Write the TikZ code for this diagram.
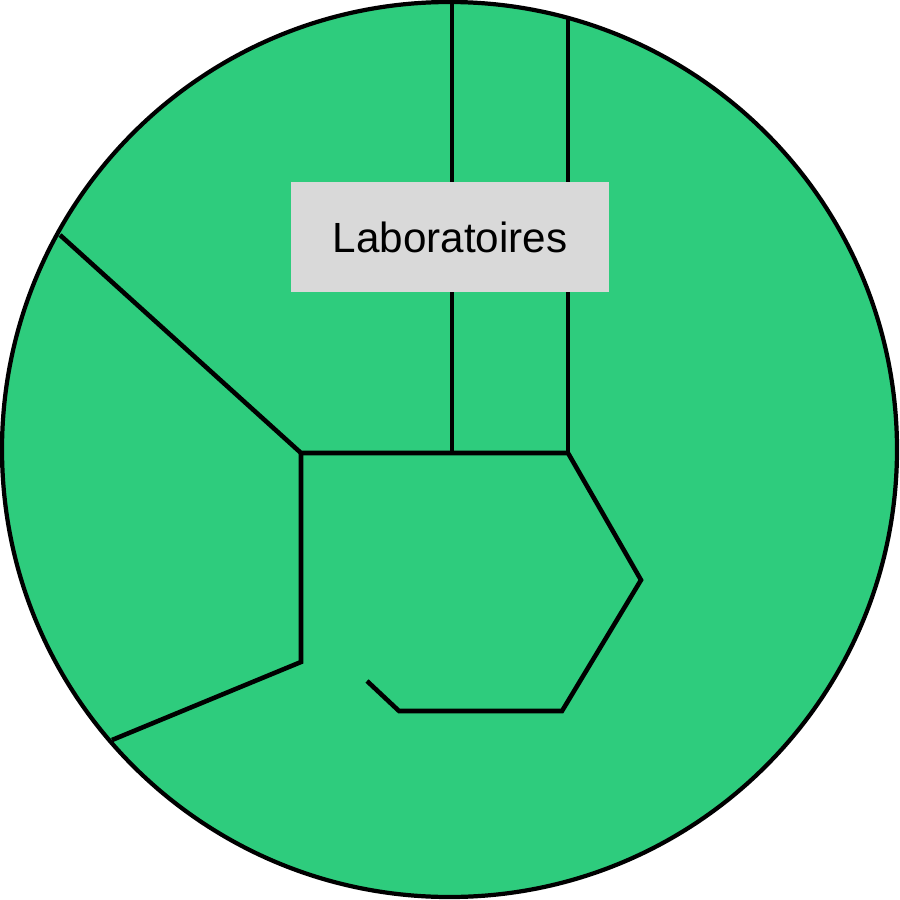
\documentclass[tikz,border=0pt]{standalone}
\usepackage{fontspec}
\setmainfont{Liberation Sans}
\usetikzlibrary{calc}
\definecolor{roomgreen}{HTML}{2ECC7D}
\definecolor{labelgray}{HTML}{D9D9D9}
\tikzset{
 wall/.style={draw=black,line width=1.3pt,line join=miter},
 roomlabel/.style={fill=labelgray,minimum width=3.18cm,minimum height=1.10cm,inner sep=0pt,
  font=\fontsize{12.0}{14.0}\selectfont}
}

\begin{document}
\begin{tikzpicture}[x=0.01cm,y=-0.01cm]
\useasboundingbox (0,0) rectangle (900,900);
\fill[roomgreen] (449.5,449.5) circle[radius=447.5];
% points of the walls
\coordinate (ta) at (452,0);
\coordinate (tb) at (568,18);
\coordinate (ja) at (452,453);
\coordinate (jb) at (568,453);
\coordinate (jc) at (301,453);
\coordinate (wl) at (60,235);
\coordinate (wb) at (301,662);
\coordinate (bl) at (112,740);
\coordinate (ea) at (641,580);
\coordinate (eb) at (562,711);
\coordinate (ec) at (399,711);
\coordinate (ed) at (367,681);
\draw[wall] (ta) -- (ja);
\draw[wall] (tb) -- (jb);
\draw[wall] (wl) -- (jc) -- (jb) -- (ea) -- (eb) -- (ec) -- (ed);
\draw[wall] (jc) -- (wb) -- (bl);
\draw[black,line width=1.2pt] (449.5,449.5) circle[radius=447.5];
\node[roomlabel] (labo) at (450,237) {Laboratoires};
\end{tikzpicture}
\end{document}
